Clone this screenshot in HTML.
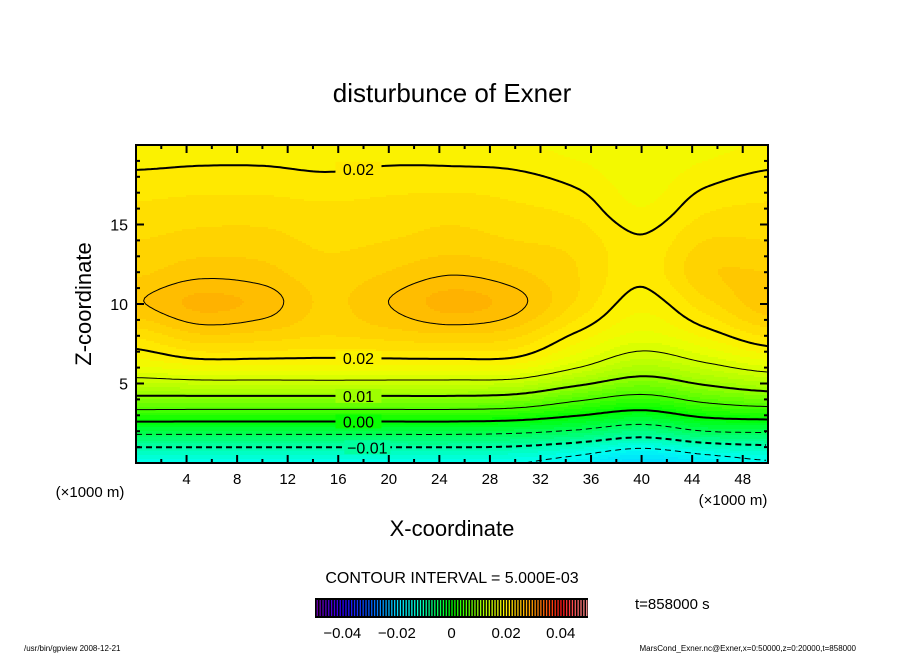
<!DOCTYPE html>
<html><head><meta charset="utf-8"><style>
body{margin:0;background:#fff;}
svg{display:block;font-family:"Liberation Sans","DejaVu Sans",sans-serif;}
</style></head><body>
<svg id="chart" width="904" height="654" viewBox="0 0 904 654">
<rect width="904" height="654" fill="#fff"/>
<text x="452" y="102" text-anchor="middle" font-size="26">disturbunce of Exner</text>
<g id="fill"></g>
<g id="lines"></g>
<g id="labels"></g>
<rect x="136" y="145" width="632" height="318" fill="none" stroke="#000" stroke-width="2"/>
<g id="ticks"></g>
<text x="90" y="497" font-size="15" text-anchor="middle">(×1000 m)</text>
<text x="733" y="505" font-size="15" text-anchor="middle">(×1000 m)</text>
<text x="452" y="536" font-size="22" text-anchor="middle">X-coordinate</text>
<text transform="translate(91,304) rotate(-90)" font-size="22" text-anchor="middle">Z-coordinate</text>
<text x="452" y="583" font-size="16" text-anchor="middle">CONTOUR INTERVAL = 5.000E-03</text>
<g id="cbar"></g>
<text x="635" y="609" font-size="15">t=858000 s</text>
<text x="24" y="651" font-size="8">/usr/bin/gpview   2008-12-21</text>
<text x="856" y="651" font-size="8" text-anchor="end">MarsCond_Exner.nc@Exner,x=0:50000,z=0:20000,t=858000</text>
</svg>
<script>
// grid coordinates (km)
const gridX = [0,5,10,15,20,25,30,35,40,45,50];
const gridZ = [0,2,4,6,8,10,12,14,16,18,20];
// field values, rows by z
const row0  = [-0.0145,-0.0145,-0.0145,-0.0145,-0.0145,-0.0145,-0.0148,-0.017,-0.020,-0.0175,-0.0155];
const row2  = [-0.0038,-0.0038,-0.0038,-0.0038,-0.0038,-0.0038,-0.0042,-0.0055,-0.0075,-0.005,-0.0045];
const row4  = [0.0088,0.0088,0.0088,0.0088,0.0088,0.0088,0.0082,0.0055,0.0035,0.006,0.0075];
const row6  = [0.0172,0.0182,0.0182,0.0182,0.0182,0.0182,0.0180,0.015,0.012,0.014,0.016];
const row8  = [0.0215,0.0235,0.0232,0.0225,0.0230,0.0235,0.0228,0.0195,0.017,0.019,0.0215];
const row10 = [0.0248,0.0266,0.0258,0.0235,0.0250,0.0268,0.0255,0.0222,0.0192,0.022,0.0245];
const row12 = [0.0235,0.0245,0.0242,0.0230,0.0238,0.0248,0.0240,0.0225,0.0204,0.0235,0.0238];
const row14 = [0.0225,0.0230,0.0230,0.0222,0.0225,0.0230,0.0225,0.022,0.0202,0.0225,0.0225];
const row16 = [0.0215,0.0218,0.0218,0.0215,0.0217,0.0220,0.0215,0.0208,0.0188,0.021,0.0215];
const row18 = [0.0203,0.0205,0.0205,0.0202,0.0205,0.0205,0.0203,0.0195,0.0180,0.0195,0.0203];
const row20 = [0.0190,0.0192,0.0192,0.0190,0.0192,0.0192,0.0190,0.0182,0.0175,0.0182,0.019];
const rows = [row0,row2,row4,row6,row8,row10,row12,row14,row16,row18,row20];
const levels = [-0.015,-0.01,-0.005,0,0.005,0.01,0.015,0.02,0.025];
const xTicks = [4,8,12,16,20,24,28,32,36,40,44,48];
const zTicks = [5,10,15];
const cbarTicks = [-0.04,-0.02,0,0.02,0.04];
const cbarTickText = ["−0.04","−0.02","0","0.02","0.04"];

const NS="http://www.w3.org/2000/svg";
const L=136,R=768,T=145,B=463;
const xS=x=>L+(x-gridX[0])/(gridX[gridX.length-1]-gridX[0])*(R-L);
const zS=z=>B-(z-gridZ[0])/(gridZ[gridZ.length-1]-gridZ[0])*(B-T);
function cr(p0,p1,p2,p3,t){return 0.5*((2*p1)+(-p0+p2)*t+(2*p0-5*p1+4*p2-p3)*t*t+(-p0+3*p1-3*p2+p3)*t*t*t);}
function field(x,z){
  const nx=gridX.length,nz=gridZ.length;
  let gx=(x-gridX[0])/(gridX[1]-gridX[0]), gz=(z-gridZ[0])/(gridZ[1]-gridZ[0]);
  gx=Math.max(0,Math.min(nx-1.0001,gx)); gz=Math.max(0,Math.min(nz-1.0001,gz));
  const ix=Math.floor(gx),iz=Math.floor(gz),tx=gx-ix,tz=gz-iz;
  const cx=i=>Math.max(0,Math.min(nx-1,i)), cz=i=>Math.max(0,Math.min(nz-1,i));
  const col=[];
  for(let k=-1;k<=2;k++){const r=rows[cz(iz+k)];col.push(cr(r[cx(ix-1)],r[cx(ix)],r[cx(ix+1)],r[cx(ix+2)],tx));}
  return cr(col[0],col[1],col[2],col[3],tz);
}
const stops=[[-0.05,110,0,170],[-0.04,40,0,255],[-0.03,0,90,255],[-0.02,0,220,255],[-0.015,0,255,240],[-0.01,0,255,170],[0,0,255,0],[0.01,150,255,0],[0.017,235,255,0],[0.02,255,238,0],[0.025,255,195,0],[0.03,255,150,0],[0.04,255,20,20],[0.05,255,150,150]];
function cmap(v){
  if(v<=stops[0][0])v=stops[0][0]; if(v>=stops[stops.length-1][0])v=stops[stops.length-1][0];
  for(let i=0;i<stops.length-1;i++){const a=stops[i],b=stops[i+1];
    if(v<=b[0]){const t=(v-a[0])/(b[0]-a[0]);
      return `rgb(${Math.round(a[1]+t*(b[1]-a[1]))},${Math.round(a[2]+t*(b[2]-a[2]))},${Math.round(a[3]+t*(b[3]-a[3]))})`;}}
}
const q=v=>(Math.floor(v/0.00125)+0.5)*0.00125;
const ix2x=px=>gridX[0]+(px-L)/(R-L)*(gridX[gridX.length-1]-gridX[0]);
const iz2z=py=>gridZ[0]+(B-py)/(B-T)*(gridZ[gridZ.length-1]-gridZ[0]);

// shaded fill
const fillG=document.getElementById('fill');
const S=2;
for(let py=T;py<B;py+=S){
  let runStart=L,runCol=null;
  for(let px=L;px<=R;px+=S){
    const c=px<R?cmap(q(field(ix2x(px+S/2),iz2z(py+S/2)))):null;
    if(c!==runCol){
      if(runCol){const r=document.createElementNS(NS,'rect');
        r.setAttribute('x',runStart);r.setAttribute('y',py);r.setAttribute('width',px-runStart+0.5);r.setAttribute('height',S+0.5);r.setAttribute('fill',runCol);
        
        
        fillG.appendChild(r);}
      runStart=px;runCol=c;}
  }
}
// contour lines (marching squares) for non-negative levels
const linesG=document.getElementById('lines');
const G=3, cols=Math.ceil((R-L)/G), rws=Math.ceil((B-T)/G);
const vals=[];
for(let j=0;j<=rws;j++){const a=[];for(let i=0;i<=cols;i++){a.push(field(ix2x(Math.min(R,L+i*G)),iz2z(Math.min(B,T+j*G))));}vals.push(a);}
levels.filter(l=>l>=-1e-9).forEach(lev=>{
  let d='';
  for(let j=0;j<rws;j++)for(let i=0;i<cols;i++){
    const x0=L+i*G,y0=T+j*G,x1=Math.min(R,x0+G),y1=Math.min(B,y0+G);
    const v=[vals[j][i],vals[j][i+1],vals[j+1][i+1],vals[j+1][i]];
    const p=[[x0,y0],[x1,y0],[x1,y1],[x0,y1]];
    const pts=[];
    for(let e=0;e<4;e++){const a=v[e],b=v[(e+1)%4];
      if((a<lev)!==(b<lev)){const t=(lev-a)/(b-a);pts.push([p[e][0]+t*(p[(e+1)%4][0]-p[e][0]),p[e][1]+t*(p[(e+1)%4][1]-p[e][1])]);}}
    for(let k=0;k+1<pts.length;k+=2)d+=`M${pts[k][0].toFixed(1)} ${pts[k][1].toFixed(1)}L${pts[k+1][0].toFixed(1)} ${pts[k+1][1].toFixed(1)}`;
  }
  const path=document.createElementNS(NS,'path');
  path.setAttribute('d',d);path.setAttribute('fill','none');path.setAttribute('stroke','#000');
  path.setAttribute('stroke-width',Math.abs(Math.round(lev*1000)%10)<1e-6?2:1);
  path.setAttribute('stroke-linecap','round');
  
  
  linesG.appendChild(path);
});
function solveZ(x,lev,z0,z1){let a=z0,b=z1,fa=field(x,a)-lev;
  for(let k=0;k<30;k++){const m=(a+b)/2,fm=field(x,m)-lev;if((fm<0)===(fa<0)){a=m;fa=fm;}else b=m;}return (a+b)/2;}
// negative levels as dashed polylines
levels.filter(l=>l<-1e-9).forEach(lev=>{
  let d='',pen=false;
  for(let px=L;px<=R;px+=3){const x=ix2x(px);
    if((field(x,0)-lev)*(field(x,6)-lev)>0){pen=false;continue;}
    const z=solveZ(x,lev,0,6);d+=(pen?'L':'M')+px+' '+zS(z).toFixed(1);pen=true;}
  const path=document.createElementNS(NS,'path');
  path.setAttribute('d',d);path.setAttribute('fill','none');path.setAttribute('stroke','#000');
  path.setAttribute('stroke-width',Math.abs(Math.round(lev*1000)%10)<1e-6?2:1);
  path.setAttribute('stroke-dasharray','6,4');
  
  
  linesG.appendChild(path);
});
// labels
const labG=document.getElementById('labels');
[[17.6,0.02,14,20,'0.02'],[17.6,0.02,4,9,'0.02'],[17.6,0.01,2,7,'0.01'],[17.6,0,1,5,'0.00'],[18.3,-0.01,0,3,'−0.01']].forEach(s=>{
  const z=solveZ(s[0],s[1],s[2],s[3]);const cx=xS(s[0]),cy=zS(z);
  const bg=document.createElementNS(NS,'rect');
  bg.setAttribute('x',cx-23);bg.setAttribute('y',cy-7);bg.setAttribute('width',46);bg.setAttribute('height',14);
  bg.setAttribute('fill',cmap(q(field(s[0],z))));
  
  
  labG.appendChild(bg);
  const t=document.createElementNS(NS,'text');
  t.setAttribute('x',cx);t.setAttribute('y',cy+6);t.setAttribute('text-anchor','middle');t.setAttribute('font-size','16');
  t.textContent=s[4];
  
  
  labG.appendChild(t);
});
// ticks
const tg=document.getElementById('ticks');
function line(x1,y1,x2,y2,w){const l=document.createElementNS(NS,'line');
  l.setAttribute('x1',x1);l.setAttribute('y1',y1);l.setAttribute('x2',x2);l.setAttribute('y2',y2);l.setAttribute('stroke','#000');l.setAttribute('stroke-width',w);
  
  
  tg.appendChild(l);}
for(let x=2;x<50;x+=2){const major=x%4===0,len=major?8:4,px=xS(x);line(px,B,px,B-len,2);line(px,T,px,T+len,2);}
for(let z=1;z<20;z++){const major=z%5===0,len=major?8:4,py=zS(z);line(L,py,L+len,py,2);line(R,py,R-len,py,2);}
xTicks.forEach(x=>{const t=document.createElementNS(NS,'text');t.setAttribute('x',xS(x));t.setAttribute('y',484);t.setAttribute('text-anchor','middle');t.setAttribute('font-size','15');t.textContent=x;
  
  
  tg.appendChild(t);});
zTicks.forEach(z=>{const t=document.createElementNS(NS,'text');t.setAttribute('x',128);t.setAttribute('y',zS(z)+6);t.setAttribute('text-anchor','end');t.setAttribute('font-size','16');t.textContent=z;
  
  
  tg.appendChild(t);});
// colorbar
const cb=document.getElementById('cbar');
const CL=315,CR=588,CT=598,CB=618,cmin=-0.05,cmax=0.05;
const cS=v=>CL+(v-cmin)/(cmax-cmin)*(CR-CL);
const bgR=document.createElementNS(NS,'rect');
bgR.setAttribute('x',CL);bgR.setAttribute('y',CT);bgR.setAttribute('width',CR-CL);bgR.setAttribute('height',CB-CT);bgR.setAttribute('fill','#000');


cb.appendChild(bgR);
for(let v=cmin+0.0006;v<cmax;v+=0.00105){const l=document.createElementNS(NS,'rect');
  l.setAttribute('x',cS(v));l.setAttribute('y',CT+2);l.setAttribute('width',1.3);l.setAttribute('height',CB-CT-4);l.setAttribute('fill',cmap(v));
  
  
  cb.appendChild(l);}
cbarTicks.forEach((v,i)=>{const t=document.createElementNS(NS,'text');t.setAttribute('x',cS(v));t.setAttribute('y',638);t.setAttribute('text-anchor','middle');t.setAttribute('font-size','15');t.textContent=cbarTickText[i];
  
  
  cb.appendChild(t);});
</script>
</body></html>
